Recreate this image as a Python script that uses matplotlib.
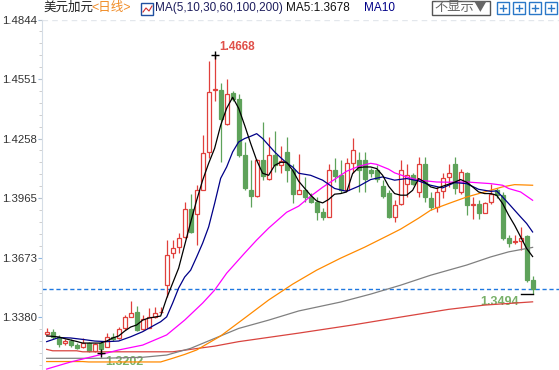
import matplotlib
matplotlib.use('Agg')
import matplotlib.pyplot as plt
from matplotlib.patches import Rectangle

# daily candles, USD/CAD
opens = [1.3299, 1.3308, 1.3282, 1.3251, 1.3262, 1.3242, 1.3234, 1.3252, 1.3214, 1.3252,
         1.3234, 1.3283, 1.3275, 1.3324, 1.3381, 1.3403, 1.3320, 1.3327, 1.3379, 1.3403,
         1.3537, 1.3693, 1.3723, 1.3772, 1.3914, 1.3886, 1.4008, 1.4193, 1.4496, 1.4499,
         1.4329, 1.4483, 1.4455, 1.4180, 1.4008, 1.3975, 1.4155, 1.4058, 1.4180, 1.4127,
         1.4193, 1.4103, 1.3988, 1.4004, 1.3969, 1.3947, 1.3898, 1.3873, 1.4103, 1.4078,
         1.4004, 1.4139, 1.4155, 1.4155, 1.4103, 1.4103, 1.4024, 1.3991, 1.3873, 1.3939,
         1.4037, 1.4078, 1.3996, 1.4136, 1.3964, 1.3922, 1.4001, 1.4070, 1.4136, 1.3996,
         1.4087, 1.3931, 1.3936, 1.3893, 1.3947, 1.4004, 1.3980, 1.3767, 1.3750, 1.3755,
         1.3778, 1.3562]
highs = [1.3326, 1.3321, 1.3292, 1.3272, 1.3272, 1.3252, 1.3277, 1.3259, 1.3252, 1.3262,
         1.3301, 1.3301, 1.3332, 1.3390, 1.3460, 1.3434, 1.3390, 1.3423, 1.3431, 1.3431,
         1.3759, 1.3759, 1.3795, 1.3947, 1.3988, 1.4029, 1.4275, 1.4640, 1.4668, 1.4532,
         1.4554, 1.4491, 1.4480, 1.4242, 1.4152, 1.4157, 1.4340, 1.4265, 1.4294, 1.4221,
         1.4266, 1.4136, 1.4185, 1.4070, 1.3990, 1.3969, 1.3916, 1.4136, 1.4162, 1.4152,
         1.4162, 1.4260, 1.4193, 1.4193, 1.4113, 1.4127, 1.4054, 1.4004, 1.3955, 1.4152,
         1.4136, 1.4088, 1.4168, 1.4168, 1.3996, 1.4021, 1.4087, 1.4136, 1.4168, 1.4111,
         1.4094, 1.3971, 1.3955, 1.3947, 1.4037, 1.4013, 1.3996, 1.3783, 1.3783, 1.3824,
         1.3783, 1.3582]
lows = [1.3292, 1.3272, 1.3234, 1.3242, 1.3234, 1.3223, 1.3228, 1.3209, 1.3208, 1.3202,
        1.3233, 1.3264, 1.3270, 1.3316, 1.3379, 1.3313, 1.3316, 1.3324, 1.3377, 1.3398,
        1.3478, 1.3670, 1.3693, 1.3767, 1.3792, 1.3734, 1.4004, 1.4165, 1.4442, 1.4144,
        1.4324, 1.4442, 1.4168, 1.4004, 1.3922, 1.3970, 1.4054, 1.4054, 1.4094, 1.4087,
        1.4045, 1.3942, 1.3985, 1.3947, 1.3941, 1.3857, 1.3857, 1.3872, 1.4045, 1.3990,
        1.4000, 1.4088, 1.3996, 1.3996, 1.4070, 1.4044, 1.3965, 1.3867, 1.3849, 1.3931,
        1.3971, 1.4029, 1.3971, 1.3947, 1.3906, 1.3898, 1.3964, 1.4021, 1.3988, 1.3988,
        1.3882, 1.3865, 1.3865, 1.3890, 1.3939, 1.3964, 1.3759, 1.3726, 1.3742, 1.3709,
        1.3554, 1.3494]
closes = [1.3306, 1.3283, 1.3247, 1.3262, 1.3242, 1.3229, 1.3251, 1.3214, 1.3246, 1.3223,
          1.3280, 1.3273, 1.3320, 1.3379, 1.3398, 1.3316, 1.3369, 1.3380, 1.3398, 1.3407,
          1.3688, 1.3718, 1.3767, 1.3914, 1.3799, 1.4004, 1.4190, 1.4488, 1.4501, 1.4357,
          1.4480, 1.4455, 1.4180, 1.4013, 1.3975, 1.4155, 1.4073, 1.4180, 1.4130, 1.4147,
          1.4103, 1.3988, 1.4004, 1.3969, 1.3947, 1.3898, 1.3873, 1.4103, 1.4073, 1.4008,
          1.4139, 1.4201, 1.4103, 1.4062, 1.4087, 1.4062, 1.3975, 1.3873, 1.3931, 1.4103,
          1.4078, 1.4037, 1.4136, 1.3971, 1.3922, 1.3996, 1.4067, 1.4089, 1.4013, 1.4094,
          1.3931, 1.3939, 1.3893, 1.3942, 1.3988, 1.3980, 1.3767, 1.3745, 1.3755, 1.3767,
          1.3562, 1.3518]

# moving averages (sampled at candle positions)
ma5 = [1.3287, 1.3285, 1.3282, 1.3274, 1.3267, 1.3260, 1.3252, 1.3252, 1.3252, 1.3252,
       1.3262, 1.3277, 1.3287, 1.3311, 1.3331, 1.3341, 1.3365, 1.3375, 1.3380, 1.3385,
       1.3473, 1.3547, 1.3621, 1.3734, 1.3847, 1.3955, 1.4054, 1.4137, 1.4211, 1.4324,
       1.4408, 1.4462, 1.4408, 1.4324, 1.4235, 1.4152, 1.4088, 1.4078, 1.4127, 1.4142,
       1.4142, 1.4103, 1.4049, 1.4014, 1.3980, 1.3952, 1.3942, 1.3959, 1.3985, 1.3988,
       1.3996, 1.4087, 1.4116, 1.4119, 1.4119, 1.4111, 1.4078, 1.4024, 1.3988, 1.3980,
       1.3980, 1.4004, 1.4062, 1.4045, 1.4021, 1.4013, 1.4024, 1.4034, 1.4044, 1.4057,
       1.4044, 1.4021, 1.3996, 1.3988, 1.3988, 1.3980, 1.3939, 1.3882, 1.3832, 1.3775,
       1.3718, 1.3678]
ma5_idx = list(range(len(ma5)))
ma10_idx = [0, 2, 4, 6, 8, 10, 12, 14, 16, 18, 19, 20, 21, 22, 23, 24, 25, 26, 27, 28,
            29, 30, 31, 32, 33, 34, 35, 36, 37, 38, 39, 40, 41, 42, 44, 46, 48, 50, 52, 54,
            56, 58, 60, 62, 64, 66, 68, 70, 72, 74, 75, 76, 77, 78, 79, 80, 81]
ma10 = [1.3259, 1.3279, 1.3277, 1.3270, 1.3262, 1.3259, 1.3262, 1.3283, 1.3308, 1.3341,
        1.3357, 1.3381, 1.3449, 1.3523, 1.3577, 1.3611, 1.3676, 1.3744, 1.3824, 1.3940,
        1.4063, 1.4119, 1.4193, 1.4242, 1.4259, 1.4270, 1.4283, 1.4259, 1.4226, 1.4193,
        1.4165, 1.4139, 1.4119, 1.4088, 1.4078, 1.4054, 1.4013, 1.3999, 1.4024, 1.4057,
        1.4070, 1.4054, 1.4062, 1.4050, 1.4029, 1.4016, 1.4042, 1.4037, 1.4009, 1.3999,
        1.4001, 1.3971, 1.3939, 1.3906, 1.3873, 1.3841, 1.3799]
ma30_idx = [0, 4, 8, 12, 16, 20, 23, 26, 28, 30, 33, 35, 37, 40, 42, 44, 46, 48, 50, 52,
            54, 55, 57, 58, 60, 62, 65, 67, 70, 74, 76, 77, 79, 81]
ma30 = [1.3124, 1.3159, 1.3188, 1.3218, 1.3242, 1.3292, 1.3365, 1.3449, 1.3513, 1.3596,
        1.3695, 1.3759, 1.3818, 1.3896, 1.3926, 1.3975, 1.4019, 1.4058, 1.4098, 1.4122,
        1.4137, 1.4132, 1.4108, 1.4090, 1.4070, 1.4054, 1.4045, 1.4044, 1.4045, 1.4037,
        1.4029, 1.4013, 1.3996, 1.3955]
ma60_idx = [0, 6, 7, 19, 21, 23, 25, 29, 33, 37, 41, 45, 49, 53, 57, 59, 62, 64, 67, 70,
            73, 76, 78, 81]
ma60 = [1.3161, 1.3161, 1.3159, 1.3159, 1.3177, 1.3196, 1.3218, 1.3287, 1.3375, 1.3464,
        1.3542, 1.3611, 1.3670, 1.3724, 1.3783, 1.3813, 1.3867, 1.3906, 1.3939, 1.3971,
        1.3996, 1.4021, 1.4032, 1.4029]
ma100_idx = [0, 9, 16, 20, 24, 28, 32, 37, 42, 49, 54, 59, 64, 70, 74, 77, 81]
ma100 = [1.3177, 1.3177, 1.3182, 1.3193, 1.3226, 1.3275, 1.3324, 1.3365, 1.3410, 1.3454,
         1.3493, 1.3537, 1.3586, 1.3636, 1.3676, 1.3701, 1.3723]
ma200_idx = [0, 1, 5, 6, 21, 24, 28, 32, 42, 51, 59, 67, 73, 77, 81]
ma200 = [1.3221, 1.3214, 1.3214, 1.3209, 1.3209, 1.3221, 1.3237, 1.3259, 1.3301, 1.3341,
         1.3380, 1.3418, 1.3439, 1.3447, 1.3455]

y_ticks = [1.4844, 1.4551, 1.4258, 1.3965, 1.3673, 1.3380]

RED = '#e0403c'
GREEN = '#5ea25a'

plt.rcParams['font.family'] = ['Liberation Sans', 'Noto Sans CJK SC', 'DejaVu Sans']

W, H = 559, 370
fig = plt.figure(figsize=(W / 100, H / 100), dpi=100)
ax = fig.add_axes([42 / W, 0, 517 / W, 350.5 / H])
ax.set_xlim(-0.78, 85.4)
ax.set_ylim(1.31194, 1.4844)


def draw_candles(ax):
    for i, (o, h, l, c) in enumerate(zip(opens, highs, lows, closes)):
        up = c >= o
        col = RED if up else GREEN
        ax.vlines(i, l, h, color=col, lw=0.9, zorder=2)
        bottom = min(o, c)
        height = max(abs(c - o), 0.00005)
        ax.bar(i, height, bottom=bottom, width=0.7,
               facecolor='white' if up else GREEN, edgecolor=col,
               linewidth=0.9, zorder=3)


draw_candles(ax)

# moving average lines
ax.plot(ma200_idx, ma200, color='#d9443f', lw=0.9, zorder=4)
ax.plot(ma100_idx, ma100, color='#808080', lw=0.9, zorder=4)
ax.plot(ma60_idx, ma60, color='#ff8a00', lw=0.9, zorder=4)
ax.plot(ma30_idx, ma30, color='#ff00ff', lw=0.9, zorder=4)
ax.plot(ma10_idx, ma10, color='#000088', lw=0.9, zorder=5)
ax.plot(ma5_idx, ma5, color='black', lw=0.9, zorder=5)

# current price line
ax.axhline(closes[-1], color='#1f78e0', lw=1, ls=(0, (3, 2)), zorder=1)
ax.axhline(y_ticks[0], color='#e3e7ec', lw=1, ls=(0, (4, 3)), zorder=0)

# high / low markers
hi = max(highs)
hi_i = highs.index(hi)
lo = min(lows)
lo_i = lows.index(lo)
ax.plot(hi_i, hi, marker='+', color='black', ms=6, mew=1, zorder=6)
ax.plot(lo_i, lo, marker='+', color='black', ms=6, mew=1, zorder=6)
ax.annotate(f'{hi:.4f}', (hi_i, hi), xytext=(3, 6), textcoords='offset points',
            color='#e0504a', fontsize=8.5, fontweight='bold', va='center', ha='left')
ax.annotate(f'{lo:.4f}', (lo_i, lo), xytext=(3.5, -6), textcoords='offset points',
            color='#78b068', fontsize=9, fontweight='bold', va='center', ha='left')
last_lo = lows[-1]
n = len(lows) - 1
ax.plot([n - 2, n], [last_lo, last_lo], color='black', lw=1, zorder=6)
ax.annotate(f'{last_lo:.4f}', (n, last_lo), xytext=(-10, -6), textcoords='offset points',
            color='#78b068', fontsize=9, fontweight='bold', va='center', ha='right')

# axes styling
for s in ['top', 'right', 'bottom']:
    ax.spines[s].set_visible(False)
ax.spines['left'].set_color('#d5dde6')
ax.set_xticks([])
ax.set_yticks(y_ticks)
ax.set_yticklabels([f'{t:.4f}' for t in y_ticks])
step = (y_ticks[0] - y_ticks[1]) / 5
minor = [y_ticks[-1] + k * step for k in range(-4, 26)]
ax.set_yticks(minor, minor=True)
ax.tick_params(axis='y', which='major', length=3, color='#8ab6e4', labelsize=8.2,
               labelcolor='#333333', pad=0.8)
ax.tick_params(axis='y', which='minor', length=2, color='#c8c8c8')

# header
def ftext(x, y, s, **kw):
    fig.text(x / W, 1 - y / H, s, va='center', ha='left', **kw)


ftext(43, 8, '美元加元', fontsize=9, color='#222222')
ftext(91, 8, '<日线>', fontsize=9, color='#f08a24')
fig.patches.append(Rectangle((141 / W, 1 - 15 / H), 12 / W, 12 / H, transform=fig.transFigure,
                             facecolor='white', edgecolor='#2050a0', lw=1))
fig.lines.append(plt.Line2D([143 / W, 146 / W, 149 / W, 152 / W],
                            [1 - 12 / H, 1 - 8 / H, 1 - 11 / H, 1 - 6 / H],
                            transform=fig.transFigure, color='#d03030', lw=0.8))
ftext(155, 8, 'MA(5,10,30,60,100,200)', fontsize=8.5, color='#1c1c5c')
ftext(286, 8, f'MA5:{ma5[-1]:.4f}', fontsize=8.5, color='#111111')
ftext(364, 8, 'MA10', fontsize=8.5, color='#000088')

# toolbar button and icons
fig.patches.append(Rectangle((432 / W, 1 - 15 / H), 58 / W, 14 / H, transform=fig.transFigure,
                             facecolor='white', edgecolor='#555555', lw=1))
fig.text(461 / W, 1 - 8 / H, '不显示▼', fontsize=9.5, color='#666666', ha='center', va='center',
         family=['Noto Sans CJK SC', 'DejaVu Sans'])
for x0 in [497, 513, 529, 545]:
    fig.patches.append(Rectangle((x0 / W, 1 - 14 / H), 12 / W, 12 / H, transform=fig.transFigure,
                                 facecolor='white', edgecolor='#2a78c8', lw=1))
    fig.lines.append(plt.Line2D([(x0 + 3) / W, (x0 + 9) / W], [1 - 8 / H, 1 - 8 / H],
                                transform=fig.transFigure, color='#2a78c8', lw=1))
    fig.lines.append(plt.Line2D([(x0 + 6) / W, (x0 + 6) / W], [1 - 5 / H, 1 - 11 / H],
                                transform=fig.transFigure, color='#2a78c8', lw=1))

fig.savefig('out.png', dpi=100)
